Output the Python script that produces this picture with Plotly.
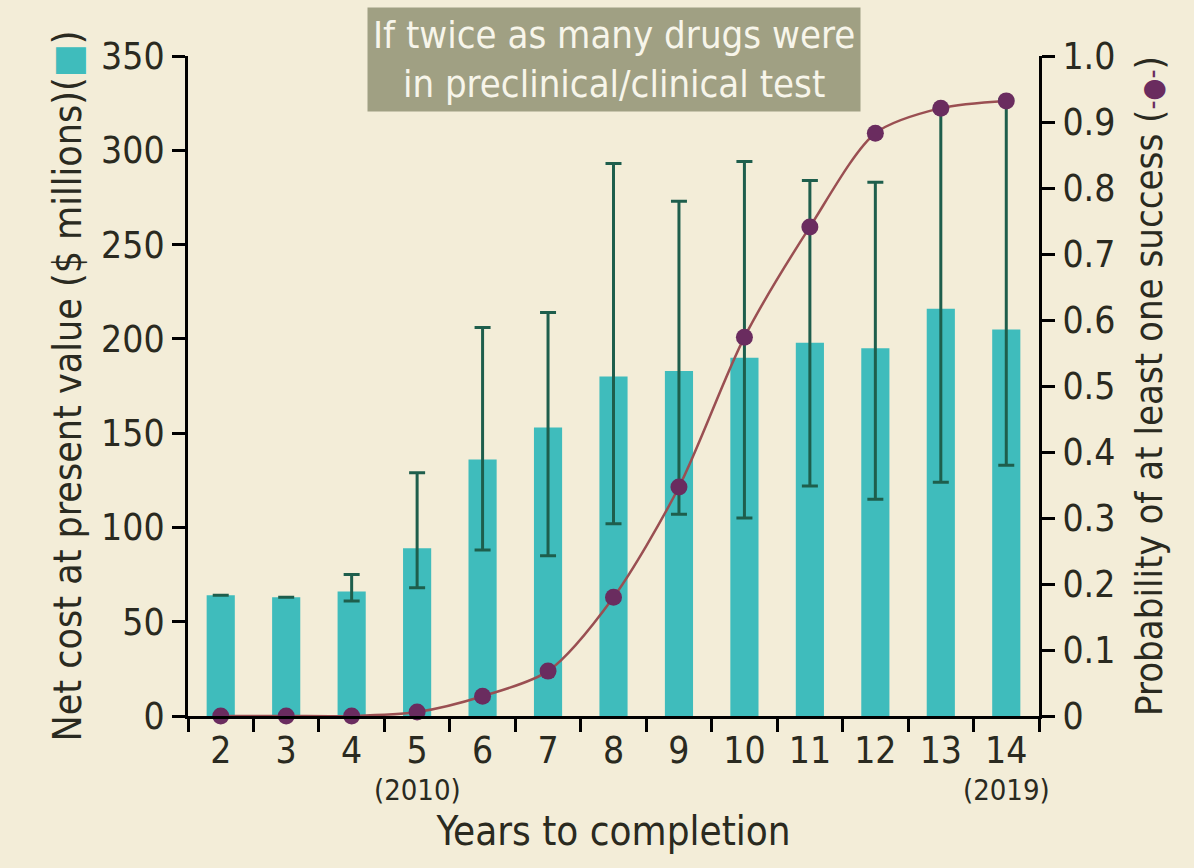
import plotly.graph_objects as go

years = ["2", "3", "4", "5", "6", "7", "8", "9", "10", "11", "12", "13", "14"]
tick_labels = ["2", "3", "4", "5", "6", "7", "8", "9", "10", "11", "12", "13", "14"]
year_note_at = ["5", "14"]
year_note_text = ["(2010)", "(2019)"]
net_cost = [64, 63, 66, 89, 136, 153, 180, 183, 190, 198, 195, 216, 205]
cost_upper = [64, 63, 75, 129, 206, 214, 293, 273, 294, 284, 283, 322, 327]
cost_lower = [64, 63, 61, 68, 88, 85, 102, 107, 105, 122, 115, 124, 133]
prob_success = [0.0, 0.0, 0.0, 0.006, 0.03, 0.068, 0.18, 0.347, 0.574, 0.741, 0.883, 0.921, 0.932]
left_ticks = [0, 50, 100, 150, 200, 250, 300, 350]
right_ticks = [0, 0.1, 0.2, 0.3, 0.4, 0.5, 0.6, 0.7, 0.8, 0.9, 1.0]
right_tick_text = ["0", "0.1", "0.2", "0.3", "0.4", "0.5", "0.6", "0.7", "0.8", "0.9", "1.0"]

BG = "#f3edd8"
TEAL = "#3fbcbc"
ERR = "#1e5e4c"
PURPLE = "#6a2c5f"
LINEC = "#9a4f52"
FONT = "Liberation Sans Narrow, DejaVu Sans Condensed, Lato, sans-serif"
TXT = "#2a2a20"

err_plus = [u - v for u, v in zip(cost_upper, net_cost)]
err_minus = [v - l for v, l in zip(net_cost, cost_lower)]

fig = go.Figure()
fig.add_trace(go.Bar(
    x=years, y=net_cost, width=0.43,
    marker=dict(color=TEAL, line=dict(width=0)),
    error_y=dict(type="data", symmetric=False, array=err_plus, arrayminus=err_minus,
                 color=ERR, thickness=3, width=8),
    yaxis="y", showlegend=False,
))
fig.add_trace(go.Scatter(
    x=years, y=prob_success, mode="lines+markers",
    line=dict(color=LINEC, width=2.5, shape="spline", smoothing=0.8),
    marker=dict(color=PURPLE, size=17),
    yaxis="y2", showlegend=False, cliponaxis=False,
))

axis_common = dict(showgrid=False, zeroline=False, showline=True, linecolor="black",
                   linewidth=3, ticks="outside", tickcolor="black", tickwidth=3, ticklen=13,
                   tickangle=0,
                   tickfont=dict(family=FONT, size=37, color=TXT))

annotations = [dict(
    text="If twice as many drugs were<br>in preclinical/clinical test",
    xref="paper", yref="paper", x=0.50, y=0.995, xanchor="center", yanchor="middle",
    showarrow=False, bgcolor="#a0a083", borderpad=5,
    font=dict(family=FONT, size=38, color="#f7f5ea"),
)]
for cat, note in zip(year_note_at, year_note_text):
    annotations.append(dict(
        text=note, xref="x", yref="paper", x=years.index(cat), y=-0.112,
        xanchor="center", yanchor="middle", showarrow=False,
        font=dict(family=FONT, size=29, color=TXT),
    ))

fig.update_layout(
    width=1194, height=868, autosize=False,
    margin=dict(l=188, r=155, t=56, b=152),
    paper_bgcolor=BG, plot_bgcolor=BG,
    bargap=0.5,
    xaxis=dict(type="category", categoryorder="array", categoryarray=years,
               tickmode="array", tickvals=years, ticktext=tick_labels,
               tickson="boundaries", range=[-0.5, 12.5],
               title=dict(text="Years to completion", font=dict(family=FONT, size=40, color=TXT),
                          standoff=46),
               **axis_common),
    yaxis=dict(range=[0, 350], tickmode="array", tickvals=left_ticks,
               title=dict(text="Net cost at present value ($ millions)(<span style='color:%s'>■</span>)" % TEAL,
                          font=dict(family=FONT, size=39, color=TXT), standoff=8),
               **axis_common),
    yaxis2=dict(range=[0, 1.0], overlaying="y", side="right", tickmode="array",
                tickvals=right_ticks, ticktext=right_tick_text,
                title=dict(text="Probability of at least one success (<span style='color:%s;font-size:28px'>-●-</span>)" % PURPLE,
                           font=dict(family=FONT, size=38, color=TXT), standoff=22),
                **axis_common),
    annotations=annotations,
)

fig.write_html("out.html")
